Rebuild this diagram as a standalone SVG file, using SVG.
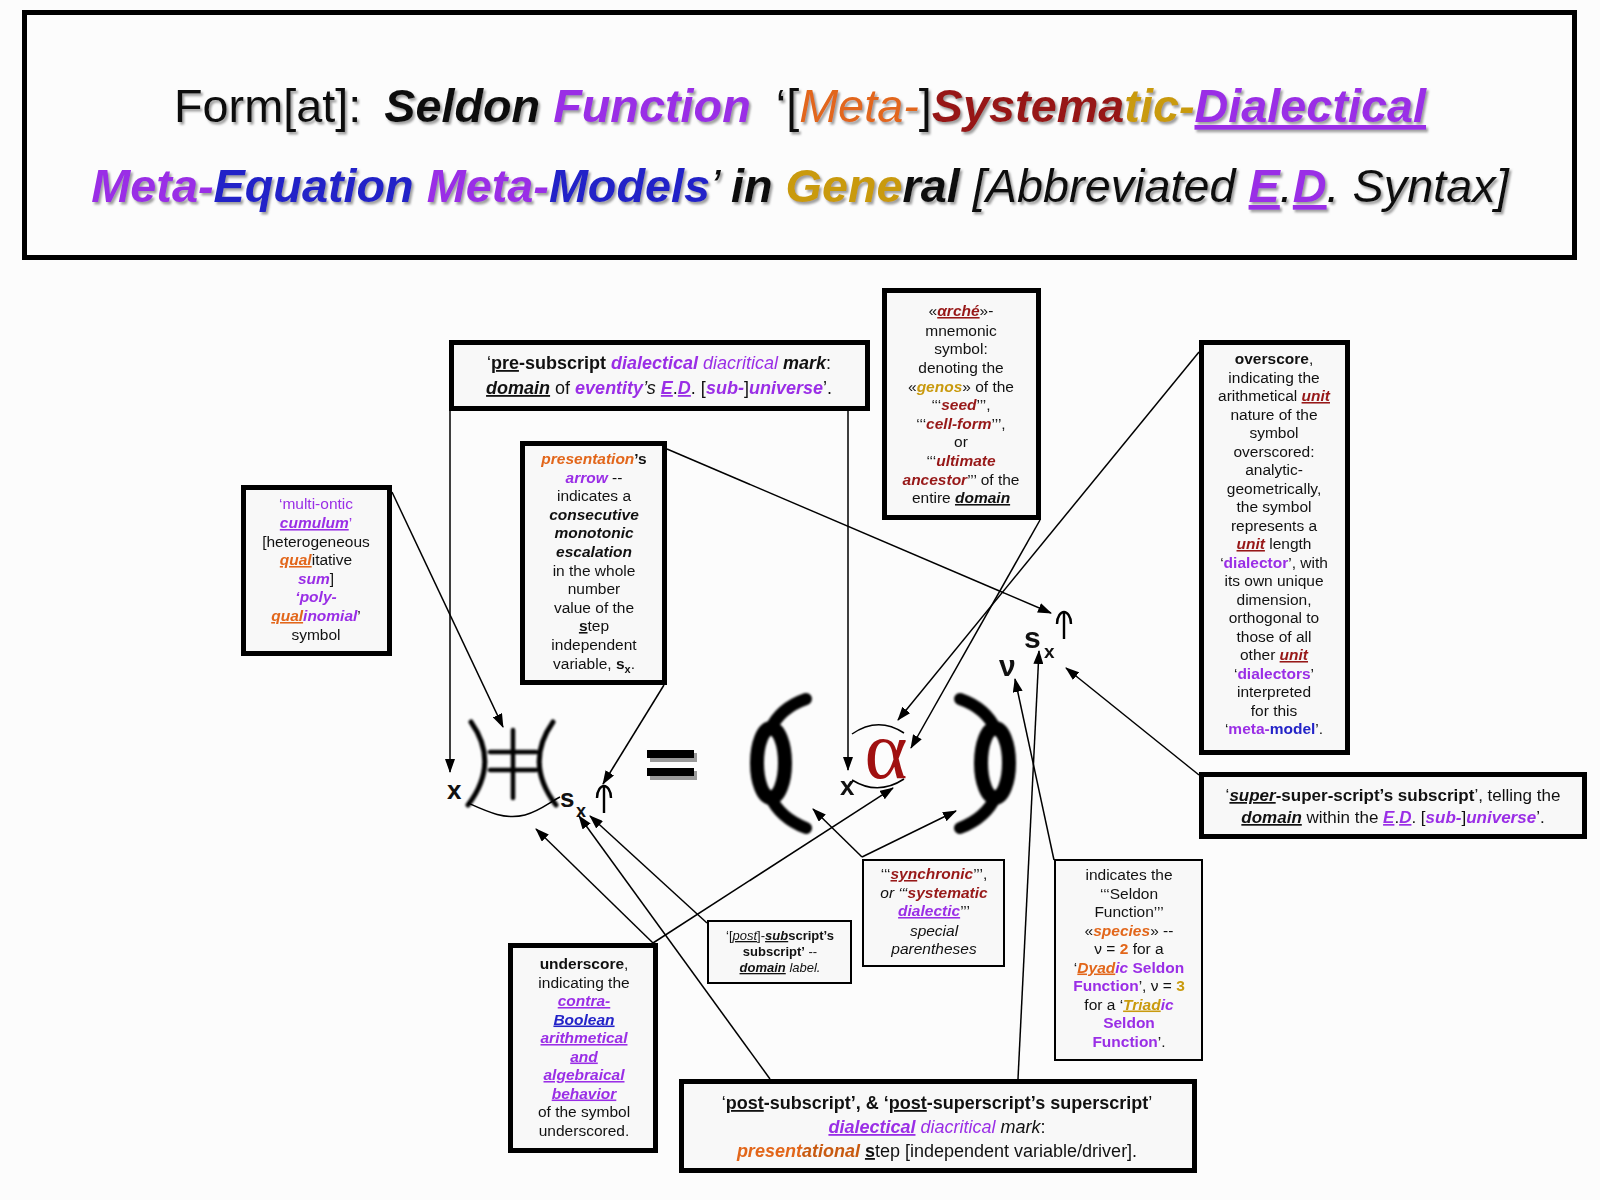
<svg xmlns="http://www.w3.org/2000/svg" width="1600" height="1200" viewBox="0 0 1600 1200">
<style>
text{font-family:"Liberation Sans",Arial,sans-serif;fill:#111}
.tx{font-size:15.5px;text-anchor:middle}
.b{font-weight:bold}
.i{font-style:italic}
.u{text-decoration:underline}
.pu{fill:#9A2EE6}
.or{fill:#E2661A}
.or2{fill:#C85A10}
.dr{fill:#971818}
.go{fill:#C99A0E}
.bl{fill:#2323C8}
.box{fill:#F8F8F8;stroke:#000;stroke-width:5}
.thin{fill:#F8F8F8;stroke:#000;stroke-width:2}
.con line{stroke:#000;stroke-width:1.5;marker-end:url(#ah)}
.glyph{fill:none;stroke:#000;stroke-linecap:round}
</style>
<defs>
<marker id="ah" markerWidth="14" markerHeight="10" refX="13" refY="5" orient="auto" markerUnits="userSpaceOnUse"><path d="M0,0 L14,5 L0,10 z" fill="#000"/></marker>
<filter id="sh" x="-5%" y="-30%" width="110%" height="160%"><feDropShadow dx="2" dy="2.5" stdDeviation="1.2" flood-color="#777" flood-opacity="0.7"/></filter>
<filter id="soft" x="-20%" y="-20%" width="140%" height="140%"><feGaussianBlur stdDeviation="1"/></filter>
<path id="umb" d="M0,0 V-26 M-7,-15 C-7,-23 -3,-27 0,-27 C3,-27 7,-23 7,-15" fill="none" stroke="#000" stroke-width="2.4"/>
<g id="paren">
<ellipse cx="771" cy="763" rx="14" ry="35" fill="none" stroke="#000" stroke-width="14"/>
<path d="M806 699 Q780 708 770 730 M770 796 Q780 818 806 828" fill="none" stroke="#000" stroke-width="12" stroke-linecap="round"/>
</g>
</defs>
<rect width="1600" height="1200" fill="#FCFCFC"/>

<g id="title">
<rect x="24.5" y="12.5" width="1550" height="245" fill="#FCFCFC" stroke="#000" stroke-width="5"/>
<g filter="url(#sh)">
<text x="800" y="122" font-size="46.8" text-anchor="middle"><tspan>Form[at]: </tspan><tspan dx="10" class="b i">Seldon </tspan><tspan class="b i pu">Function</tspan><tspan dx="12"> ‘[</tspan><tspan class="i or">Meta-</tspan><tspan>]</tspan><tspan class="b i dr">Systema</tspan><tspan class="b i go">tic-</tspan><tspan class="b i pu u">Dialectical</tspan></text>
<text x="800" y="202" font-size="46.8" text-anchor="middle"><tspan class="b i pu">Meta-</tspan><tspan class="b i bl">Equation </tspan><tspan class="b i pu">Meta-</tspan><tspan class="b i bl">Models</tspan><tspan class="i">’ </tspan><tspan class="b i">in </tspan><tspan class="b i go">Gene</tspan><tspan class="b i">ral </tspan><tspan class="i">[Abbreviated </tspan><tspan class="b i pu u">E</tspan><tspan class="i">.</tspan><tspan class="b i pu u">D</tspan><tspan class="i">. Syntax]</tspan></text>
</g>
</g>

<g id="formula">
<text x="447" y="799" font-size="26" class="b">x</text>
<g filter="url(#soft)" class="glyph" stroke-width="5">
<path d="M471 722 Q500 763 468 805"/>
<path d="M553 722 Q524 763 556 805"/>
<path d="M513 730 V798 M490 752 H536 M490 770 H536" stroke-width="4.5"/>
</g>
<path d="M468 803 C488 812 505 820 525 815 C540 811 550 802 560 797" fill="none" stroke="#000" stroke-width="1.5"/>
<text x="560" y="807" font-size="26" class="b">s</text>
<text x="576" y="817" font-size="18" class="b">x</text>
<use href="#umb" x="604" y="813"/>
<rect x="650" y="753" width="47" height="9" fill="#999"/>
<rect x="650" y="771" width="47" height="9" fill="#999"/>
<rect x="647" y="750" width="47" height="8" fill="#000"/>
<rect x="647" y="768" width="47" height="8" fill="#000"/>
<g filter="url(#soft)"><use href="#paren"/><use href="#paren" transform="translate(1766,0) scale(-1,1)"/></g>
<text x="840" y="795" font-size="26" class="b">x</text>
<text x="886" y="778" font-size="82" text-anchor="middle" style="font-family:'Liberation Serif','Times New Roman',serif;fill:#A01010">α</text>
<path d="M852 734 Q878 716 904 733" fill="none" stroke="#000" stroke-width="1.5"/>
<path d="M852 780 Q878 796 904 779" fill="none" stroke="#000" stroke-width="1.5"/>
<text x="999" y="676" font-size="30" class="b">ν</text>
<text x="1024" y="648" font-size="30" class="b">s</text>
<text x="1044" y="658" font-size="19" class="b">x</text>
<use href="#umb" x="1064" y="639"/>
</g>

<g id="n-multi">
<rect class="box" x="243.5" y="487.5" width="146" height="166"/>
<text class="tx" x="316" y="509"><tspan class="pu">‘multi-ontic</tspan></text>
<text class="tx" x="316" y="528"><tspan class="b i pu u">cumulum</tspan><tspan class="pu">’</tspan></text>
<text class="tx" x="316" y="547">[heterogeneous</text>
<text class="tx" x="316" y="565"><tspan class="b i or u">qual</tspan>itative</text>
<text class="tx" x="316" y="584"><tspan class="b i pu">sum</tspan>]</text>
<text class="tx" x="316" y="602"><tspan class="b i pu">‘poly-</tspan></text>
<text class="tx" x="316" y="621"><tspan class="b i or u">qual</tspan><tspan class="b i pu">inomial</tspan>’</text>
<text class="tx" x="316" y="640">symbol</text>
</g>

<g id="n-presub">
<rect class="box" x="451.5" y="342.5" width="416" height="66"/>
<text class="tx" x="659" y="369" style="font-size:18px">‘<tspan class="b u">pre</tspan><tspan class="b">-subscript </tspan><tspan class="b i pu">dialectical</tspan> <tspan class="i pu">diacritical</tspan> <tspan class="b i">mark</tspan>:</text>
<text class="tx" x="659" y="394" style="font-size:18px"><tspan class="b i u">domain</tspan> of <tspan class="b i pu">eventity</tspan><tspan class="i">’s</tspan> <tspan class="b i pu u">E</tspan>.<tspan class="b i pu u">D</tspan>. [<tspan class="b i pu">sub-</tspan>]<tspan class="b i pu">universe</tspan>’.</text>
</g>

<g id="n-presentation">
<rect class="box" x="522.5" y="443.5" width="142" height="239"/>
<text class="tx" x="594" y="464"><tspan class="b i or">presentation</tspan><tspan class="b">’s</tspan></text>
<text class="tx" x="594" y="483"><tspan class="b i pu">arrow</tspan> --</text>
<text class="tx" x="594" y="501">indicates a</text>
<text class="tx b i" x="594" y="520">consecutive</text>
<text class="tx b i" x="594" y="538">monotonic</text>
<text class="tx b i" x="594" y="557">escalation</text>
<text class="tx" x="594" y="576">in the whole</text>
<text class="tx" x="594" y="594">number</text>
<text class="tx" x="594" y="613">value of the</text>
<text class="tx" x="594" y="631"><tspan class="b u">s</tspan>tep</text>
<text class="tx" x="594" y="650">independent</text>
<text class="tx" x="594" y="669">variable, <tspan class="b">s</tspan><tspan class="b" style="font-size:11px" dy="4">x</tspan><tspan dy="-4">.</tspan></text>
</g>

<g id="n-arche">
<rect class="box" x="884.5" y="290.5" width="154" height="227"/>
<text class="tx" x="961" y="316">«<tspan class="b i dr u">αrché</tspan>»-</text>
<text class="tx" x="961" y="336">mnemonic</text>
<text class="tx" x="961" y="354">symbol:</text>
<text class="tx" x="961" y="373">denoting the</text>
<text class="tx" x="961" y="392">«<tspan class="b i go">genos</tspan>» of the</text>
<text class="tx" x="961" y="410">‘‘‘<tspan class="b i dr">seed</tspan>’’’,</text>
<text class="tx" x="961" y="429">‘‘‘<tspan class="b i dr">cell-form</tspan>’’’,</text>
<text class="tx" x="961" y="447">or</text>
<text class="tx" x="961" y="466">‘‘‘<tspan class="b i dr">ultimate</tspan></text>
<text class="tx" x="961" y="485"><tspan class="b i dr">ancestor</tspan>’’’ of the</text>
<text class="tx" x="961" y="503">entire <tspan class="b i u">domain</tspan></text>
</g>

<g id="n-overscore">
<rect class="box" x="1201.5" y="342.5" width="146" height="410"/>
<text class="tx" x="1274" y="364"><tspan class="b">overscore</tspan>,</text>
<text class="tx" x="1274" y="382.5">indicating the</text>
<text class="tx" x="1274" y="401">arithmetical <tspan class="b i dr u">unit</tspan></text>
<text class="tx" x="1274" y="419.5">nature of the</text>
<text class="tx" x="1274" y="438">symbol</text>
<text class="tx" x="1274" y="456.5">overscored:</text>
<text class="tx" x="1274" y="475">analytic-</text>
<text class="tx" x="1274" y="493.5">geometrically,</text>
<text class="tx" x="1274" y="512">the symbol</text>
<text class="tx" x="1274" y="530.5">represents a</text>
<text class="tx" x="1274" y="549"><tspan class="b i dr u">unit</tspan> length</text>
<text class="tx" x="1274" y="567.5">‘<tspan class="b pu">dialector</tspan>’, with</text>
<text class="tx" x="1274" y="586">its own unique</text>
<text class="tx" x="1274" y="604.5">dimension,</text>
<text class="tx" x="1274" y="623">orthogonal to</text>
<text class="tx" x="1274" y="641.5">those of all</text>
<text class="tx" x="1274" y="660">other <tspan class="b i dr u">unit</tspan></text>
<text class="tx" x="1274" y="678.5">‘<tspan class="b pu">dialectors</tspan>’</text>
<text class="tx" x="1274" y="697">interpreted</text>
<text class="tx" x="1274" y="715.5">for this</text>
<text class="tx" x="1274" y="734">‘<tspan class="b pu">meta-</tspan><tspan class="b bl">model</tspan>’.</text>
</g>

<g id="n-supersuper">
<rect class="box" x="1201.5" y="774.5" width="383" height="62"/>
<text class="tx" x="1393" y="801" style="font-size:17px">‘<tspan class="b i u">super</tspan><tspan class="b">-super-script’s subscript</tspan>’, telling the</text>
<text class="tx" x="1393" y="823" style="font-size:17px"><tspan class="b i u">domain</tspan> within the <tspan class="b i pu u">E</tspan>.<tspan class="b i pu u">D</tspan>. [<tspan class="b i pu">sub-</tspan>]<tspan class="b i pu">universe</tspan>’.</text>
</g>

<g id="n-underscore">
<rect class="box" x="510.5" y="945.5" width="145" height="205"/>
<text class="tx" x="584" y="969"><tspan class="b">underscore</tspan>,</text>
<text class="tx" x="584" y="987.5">indicating the</text>
<text class="tx" x="584" y="1006"><tspan class="b i pu u">contra-</tspan></text>
<text class="tx" x="584" y="1024.5"><tspan class="b i bl u">Boolean</tspan></text>
<text class="tx" x="584" y="1043"><tspan class="b i pu u">arithmetical</tspan></text>
<text class="tx" x="584" y="1061.5"><tspan class="b i pu u">and</tspan></text>
<text class="tx" x="584" y="1080"><tspan class="b i pu u">algebraical</tspan></text>
<text class="tx" x="584" y="1098.5"><tspan class="b i pu u">behavior</tspan></text>
<text class="tx" x="584" y="1117">of the symbol</text>
<text class="tx" x="584" y="1136">underscored.</text>
</g>

<g id="n-postsubsub">
<rect class="thin" x="708" y="921" width="143" height="62"/>
<text class="tx" x="780" y="940" style="font-size:13px">‘[<tspan class="i u">post</tspan>]-<tspan class="b i u">sub</tspan><tspan class="b">script’s</tspan></text>
<text class="tx" x="780" y="956" style="font-size:13px"><tspan class="b">subscript’</tspan> --</text>
<text class="tx" x="780" y="972" style="font-size:13px"><tspan class="b i u">domain</tspan><tspan class="i"> label.</tspan></text>
</g>

<g id="n-synchronic">
<rect class="thin" x="863" y="860" width="141" height="106"/>
<text class="tx" x="934" y="879">‘‘‘<tspan class="b i dr u">syn</tspan><tspan class="b i dr">chronic</tspan>’’’,</text>
<text class="tx" x="934" y="898"><tspan class="i">or ‘‘‘</tspan><tspan class="b i dr">systematic</tspan></text>
<text class="tx" x="934" y="916"><tspan class="b i pu u">dialectic</tspan>’’’</text>
<text class="tx i" x="934" y="936">special</text>
<text class="tx i" x="934" y="954">parentheses</text>
</g>

<g id="n-species">
<rect class="thin" x="1055" y="860" width="147" height="200"/>
<text class="tx" x="1129" y="880">indicates the</text>
<text class="tx" x="1129" y="898.5">‘‘‘Seldon</text>
<text class="tx" x="1129" y="917">Function’’’</text>
<text class="tx" x="1129" y="935.5">«<tspan class="b i or">species</tspan>» --</text>
<text class="tx" x="1129" y="954">ν = <tspan class="b or">2</tspan> for a</text>
<text class="tx" x="1129" y="972.5">‘<tspan class="b i or u">Dyad</tspan><tspan class="b i pu">ic</tspan><tspan class="b pu"> Seldon</tspan></text>
<text class="tx" x="1129" y="991"><tspan class="b pu">Function</tspan>’, ν = <tspan class="b go">3</tspan></text>
<text class="tx" x="1129" y="1009.5">for a ‘<tspan class="b i go u">Triad</tspan><tspan class="b i pu">ic</tspan></text>
<text class="tx" x="1129" y="1028"><tspan class="b pu">Seldon</tspan></text>
<text class="tx" x="1129" y="1047"><tspan class="b pu">Function</tspan>’.</text>
</g>

<g id="n-postsub">
<rect class="box" x="681.5" y="1081.5" width="513" height="89"/>
<text class="tx" x="937" y="1109" style="font-size:18px">‘<tspan class="b u">post</tspan><tspan class="b">-subscript’, &amp; ‘</tspan><tspan class="b u">post</tspan><tspan class="b">-superscript’s superscript</tspan>’</text>
<text class="tx" x="937" y="1133" style="font-size:18px"><tspan class="b i pu u">dialectical</tspan> <tspan class="i pu">diacritical</tspan> <tspan class="i">mark</tspan>:</text>
<text class="tx" x="937" y="1157" style="font-size:18px"><tspan class="b i or">present</tspan><tspan class="b i or2">ational</tspan> <tspan class="b u">s</tspan>tep [independent variable/driver].</text>
</g>

<g id="connectors" class="con">
<line x1="450" y1="411" x2="450" y2="772"/>
<line x1="392" y1="492" x2="503" y2="727"/>
<line x1="664" y1="685" x2="603" y2="784"/>
<line x1="667" y1="449" x2="1051" y2="613"/>
<line x1="848" y1="411" x2="848" y2="770"/>
<line x1="1199" y1="352" x2="898" y2="720"/>
<line x1="1040" y1="520" x2="911" y2="748"/>
<line x1="1199" y1="775" x2="1066" y2="668"/>
<line x1="1054" y1="860" x2="1015" y2="679"/>
<line x1="1018" y1="1079" x2="1039" y2="651"/>
<line x1="653" y1="943" x2="536" y2="829"/>
<line x1="653" y1="943" x2="893" y2="788"/>
<line x1="707" y1="923" x2="590" y2="816"/>
<line x1="770" y1="1079" x2="579" y2="816"/>
<line x1="862" y1="857" x2="813" y2="809"/>
<line x1="862" y1="857" x2="956" y2="811"/>
</g>
</svg>
